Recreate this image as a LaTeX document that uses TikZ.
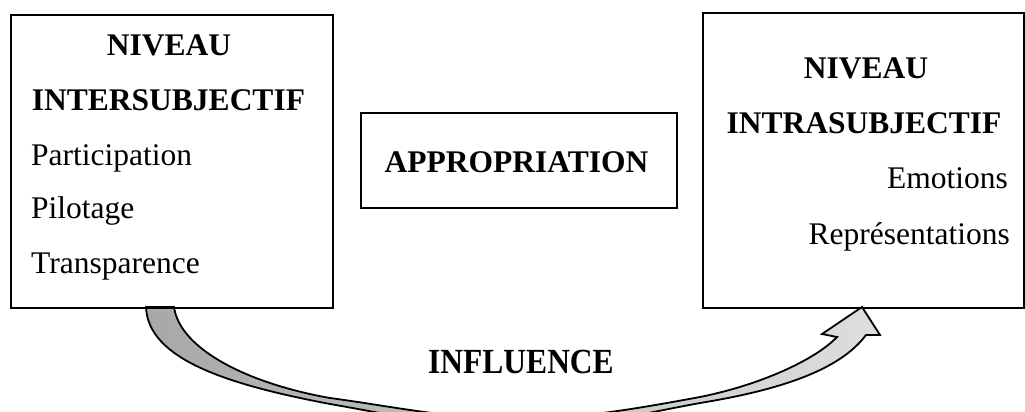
\documentclass[tikz,border=0pt]{standalone}
\usepackage{fontspec}
\setmainfont{Liberation Serif}
\usepackage{graphicx}
\begin{document}
\begin{tikzpicture}[x=1pt,y=-1pt,
  box/.style={draw=black, line width=2pt, inner sep=0pt},
  txt/.style={inner sep=0pt, font=\fontsize{31.5}{38}\selectfont},
  btxt/.style={txt, font=\fontsize{31.5}{38}\selectfont\bfseries},
  bigarrow/.style={draw=black, line width=1.8pt, line join=miter,
    left color={rgb,255:red,168;green,168;blue,168},
    right color={rgb,255:red,222;green,222;blue,222}, shading angle=90}
]
\useasboundingbox (0,0) rectangle (1025,412);
\clip (0,0) rectangle (1025,412);

% curved block arrow (INFLUENCE)
\coordinate (a1) at (146,307);
\coordinate (a2) at (174,307);
\coordinate (tip) at (862,307);
\path[bigarrow] (a1) .. controls (148,360) and (230,385) .. (330,404)
  .. controls (400,416) and (455,430) .. (515,430)
  .. controls (575,430) and (640,414) .. (700,403)
  .. controls (780,390) and (840,370) .. (866,335)
  -- (880,335) -- (tip) -- (822,334) -- (837,337)
  .. controls (815,360) and (760,385) .. (700,397)
  .. controls (640,408) and (580,419) .. (515,419)
  .. controls (450,419) and (390,406) .. (330,398)
  .. controls (250,384) and (180,350) .. (a2) -- cycle;

% boxes
\node[box, anchor=north west, minimum width=322pt, minimum height=293pt] (L) at (10,14) {};
\node[box, anchor=north west, minimum width=321pt, minimum height=295pt] (R) at (702,12) {};
\node[box, anchor=north west, minimum width=316pt, minimum height=95pt] (M) at (360,112) {};

% left texts
\node[btxt, anchor=base] (l1) at (169,56) {NIVEAU};
\node[btxt, anchor=base] (l2) at (168.5,110) {INTERSUBJECTIF};
\node[txt, anchor=base west] (l3) at (31,165) {Participation};
\node[txt, anchor=base west] (l4) at (31,218) {Pilotage};
\node[txt, anchor=base west] (l5) at (31,273) {Transparence};

% right texts
\node[btxt, anchor=base] (r1) at (866,78) {NIVEAU};
\node[btxt, anchor=base] (r2) at (864,133) {INTRASUBJECTIF};
\node[txt, anchor=base east] (r3) at (1008,188) {Emotions};
\node[txt, anchor=base east] (r4) at (1010,244) {Représentations};

% middle
\node[btxt, anchor=base] (m1) at (516.5,172) {APPROPRIATION};
\node[btxt, anchor=base] (inf) at (521,373) {\scalebox{1}[1.12]{INFLUENCE}};
\end{tikzpicture}
\end{document}
